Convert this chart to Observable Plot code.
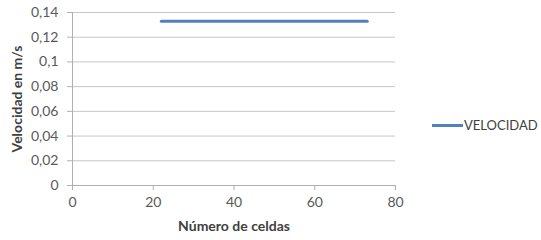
<!DOCTYPE html>
<html>
<head>
<meta charset="utf-8">
<script src="https://cdn.jsdelivr.net/npm/d3@7"></script>
<script src="https://cdn.jsdelivr.net/npm/@observablehq/plot@0.6"></script>
<style>
  html, body { margin: 0; padding: 0; background: #fff; }
  #wrap { position: relative; width: 541px; height: 240px; overflow: hidden; font-family: Lato, "Open Sans", sans-serif; }
  #legend { position: absolute; left: 432px; top: 117px; display: flex; align-items: center; font-size: 13px; color: #404040; white-space: nowrap; }
  #legend .sw { width: 31px; height: 3px; background: #4f81bd; margin-right: 1px; }
</style>
</head>
<body>
<div id="wrap"></div>
<script>
// Data
const celdas = [22, 73];
const velocidad = [0.133, 0.133];
const seriesName = "VELOCIDAD";
const xTicks = [0, 20, 40, 60, 80];
const yTicks = [0, 0.02, 0.04, 0.06, 0.08, 0.1, 0.12, 0.14];
const xLabel = "Número de celdas";
const yLabel = "Velocidad en m/s";

const data = celdas.map((c, i) => ({celdas: c, velocidad: velocidad[i]}));
const fmt = d => String(d).replace(".", ",");

const chart = Plot.plot({
  width: 541,
  height: 240,
  marginLeft: 72,
  marginRight: 146,
  marginTop: 12,
  marginBottom: 55,
  style: {fontFamily: "Lato, 'Open Sans', sans-serif", fontSize: "14px", color: "#595959", background: "white"},
  x: {domain: [0, 80]},
  y: {domain: [0, 0.14]},
  marks: [
    Plot.gridY(yTicks, {stroke: "#c6c6c6", strokeOpacity: 1}),
    Plot.ruleX([0], {stroke: "#b0b0b0"}),
    Plot.ruleY([0], {stroke: "#b0b0b0"}),
    Plot.axisX(xTicks, {tickSize: 5, tickPadding: 7, stroke: "#b0b0b0", fill: "#595959", fontSize: 14, label: null}),
    Plot.axisY(yTicks, {tickSize: 5, tickPadding: 9, tickFormat: fmt, stroke: "#b0b0b0", fill: "#595959", fontSize: 14, label: null}),
    Plot.line(data, {x: "celdas", y: "velocidad", stroke: "#4f81bd", strokeWidth: 3, strokeLinecap: "round"}),
    Plot.text([xLabel], {frameAnchor: "bottom", dy: 45, fontWeight: "bold", fontSize: 14, fill: "#404040"}),
    Plot.text([yLabel], {frameAnchor: "left", textAnchor: "middle", dx: -55, rotate: -90, fontWeight: "bold", fontSize: 14, fill: "#404040"})
  ]
});

const wrap = document.getElementById("wrap");
wrap.appendChild(chart);
const legend = document.createElement("div");
legend.id = "legend";
legend.innerHTML = `<div class="sw"></div><span>${seriesName}</span>`;
wrap.appendChild(legend);
</script>
</body>
</html>
